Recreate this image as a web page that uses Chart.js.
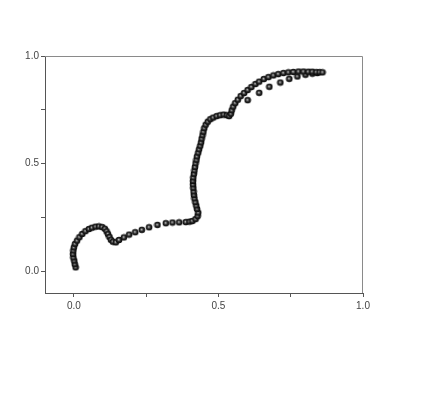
<!DOCTYPE html>
<html>
<head>
<meta charset="utf-8">
<script src="https://cdn.jsdelivr.net/npm/chart.js@4.4.1/dist/chart.umd.min.js"></script>
<style>
    body { margin: 0; background: #fff; }
    #wrap { width: 425px; height: 393px; position: relative; }
</style>
</head>
<body>
<div id="wrap"><canvas id="myChart"></canvas></div>
<script>
// curve going out (start -> end)
const xOut = [0.006, 0.003, 0.001, -0.002, -0.003, -0.002, 0.000, 0.004, 0.011, 0.019, 0.029, 0.040, 0.052, 0.063, 0.075, 0.087, 0.098, 0.107, 0.113, 0.118, 0.123, 0.128, 0.135, 0.145,
    0.156, 0.173, 0.191, 0.212, 0.235, 0.260, 0.289, 0.318, 0.341, 0.364, 0.387, 0.400,
    0.410, 0.421, 0.428, 0.430, 0.426, 0.423, 0.420, 0.417, 0.415, 0.414, 0.413, 0.412, 0.412, 0.413, 0.415, 0.417, 0.419, 0.421, 0.424, 0.426,
    0.430, 0.433, 0.437, 0.440, 0.442, 0.445, 0.448, 0.451, 0.456, 0.463, 0.472, 0.482, 0.494, 0.506, 0.518, 0.529, 0.537, 0.543, 0.546, 0.551,
    0.558, 0.567, 0.577, 0.589, 0.601, 0.614, 0.628, 0.641, 0.657, 0.673, 0.690, 0.707, 0.725, 0.742, 0.759, 0.777, 0.794, 0.811, 0.825, 0.839, 0.850, 0.860];
const yOut = [0.019, 0.034, 0.050, 0.065, 0.081, 0.097, 0.112, 0.128, 0.143, 0.159, 0.174, 0.187, 0.197, 0.203, 0.208, 0.209, 0.206, 0.198, 0.186, 0.173, 0.160, 0.147, 0.138, 0.135,
    0.146, 0.158, 0.171, 0.182, 0.193, 0.205, 0.216, 0.224, 0.227, 0.228, 0.229, 0.231,
    0.234, 0.243, 0.257, 0.273, 0.290, 0.306, 0.322, 0.339, 0.355, 0.371, 0.388, 0.404, 0.420, 0.436, 0.453, 0.469, 0.485, 0.502, 0.518, 0.534,
    0.551, 0.567, 0.583, 0.599, 0.616, 0.632, 0.648, 0.665, 0.681, 0.695, 0.707, 0.714, 0.721, 0.725, 0.728, 0.725, 0.721, 0.732, 0.748, 0.765,
    0.781, 0.797, 0.814, 0.828, 0.842, 0.856, 0.870, 0.881, 0.893, 0.902, 0.910, 0.916, 0.921, 0.924, 0.926, 0.928, 0.928, 0.927, 0.927, 0.925, 0.925, 0.924];
// sparse return branch
const xBack = [0.842, 0.825, 0.801, 0.773, 0.745, 0.714, 0.676, 0.641, 0.601];
const yBack = [0.921, 0.918, 0.913, 0.905, 0.894, 0.877, 0.857, 0.829, 0.795];

const tickValues = [0, 0.25, 0.5, 0.75, 1.0];
const tickLabels = ['0.0', '', '0.5', '', '1.0'];

// little shaded ball used as the marker
var ball = document.createElement('canvas');
ball.width = 8;
ball.height = 8;
var bctx = ball.getContext('2d');
var grad = bctx.createRadialGradient(3.6, 3.6, 0.2, 4, 4, 3.4);
grad.addColorStop(0, '#bdbdbd');
grad.addColorStop(0.45, '#2e2e2e');
grad.addColorStop(1, '#000');
bctx.fillStyle = grad;
bctx.beginPath();
bctx.arc(4, 4, 3.3, 0, Math.PI * 2);
bctx.fill();

function toPoints(xs, ys) {
    return xs.map((x, i) => ({ x: x, y: ys[i] }));
}

const frame = {
    id: 'frame',
    afterDraw(chart) {
        const a = chart.chartArea;
        const ctx = chart.ctx;
        ctx.save();
        ctx.strokeStyle = '#8a8a8a';
        ctx.lineWidth = 1;
        ctx.beginPath();
        ctx.moveTo(a.left, a.top + 0.5);
        ctx.lineTo(a.right - 0.5, a.top + 0.5);
        ctx.lineTo(a.right - 0.5, a.bottom);
        ctx.stroke();
        ctx.restore();
    }
};

const tickFont = { family: 'Liberation Sans', size: 10 };

const config = {
    type: 'scatter',
    data: {
        datasets: [
            { data: toPoints(xOut, yOut), pointStyle: ball },
            { data: toPoints(xBack, yBack), pointStyle: ball }
        ]
    },
    options: {
        responsive: true,
        maintainAspectRatio: false,
        animation: false,
        events: [],
        layout: { padding: { top: 56, right: 62, left: 0, bottom: 0 } },
        plugins: { legend: { display: false }, tooltip: { enabled: false } },
        scales: {
            x: {
                type: 'linear',
                min: -0.1,
                max: 1.0,
                afterBuildTicks: scale => { scale.ticks = tickValues.map(v => ({ value: v })); },
                afterFit: scale => { scale.height = 100; },
                ticks: {
                    color: '#444',
                    font: tickFont,
                    padding: 3,
                    maxRotation: 0,
                    callback: (v, i) => tickLabels[i]
                },
                grid: { drawOnChartArea: false, tickLength: 4, tickColor: '#555' },
                border: { color: '#555', width: 1 }
            },
            y: {
                type: 'linear',
                min: -0.1,
                max: 1.0,
                afterBuildTicks: scale => { scale.ticks = tickValues.map(v => ({ value: v })); },
                afterFit: scale => { scale.width = 45; },
                ticks: {
                    color: '#444',
                    font: tickFont,
                    padding: 2,
                    callback: (v, i) => tickLabels[i]
                },
                grid: { drawOnChartArea: false, tickLength: 4, tickColor: '#555' },
                border: { color: '#555', width: 1 }
            }
        }
    },
    plugins: [frame]
};

var myChart = new Chart(document.getElementById('myChart'), config);
</script>
</body>
</html>
